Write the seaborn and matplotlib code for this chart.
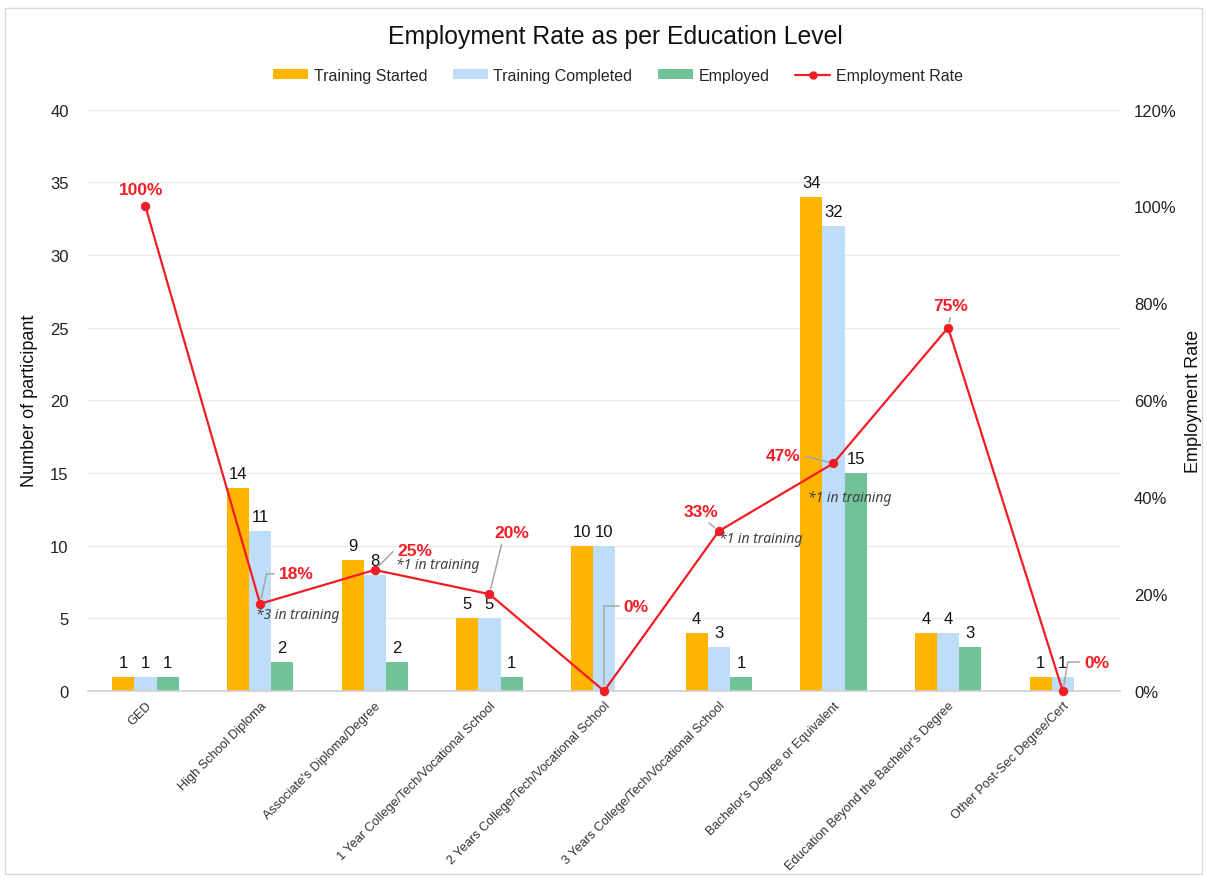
import numpy as np
import pandas as pd
import matplotlib
matplotlib.use("Agg")
import matplotlib.pyplot as plt
import seaborn as sns
from matplotlib.patches import Patch, Rectangle
from matplotlib.lines import Line2D

# ---------------- data ----------------
categories = [
    "GED",
    "High School Diploma",
    "Associate's Diploma/Degree",
    "1 Year College/Tech/Vocational School",
    "2 Years College/Tech/Vocational School",
    "3 Years College/Tech/Vocational School",
    "Bachelor's Degree or Equivalent",
    "Education Beyond the Bachelor's Degree",
    "Other Post-Sec Degree/Cert",
]
training_started = [1, 14, 9, 5, 10, 4, 34, 4, 1]
training_completed = [1, 11, 8, 5, 10, 3, 32, 4, 1]
employed = [1, 2, 2, 1, 0, 1, 15, 3, 0]
employment_rate = [100, 18, 25, 20, 0, 33, 47, 75, 0]
notes = ["", "*3 in training", "*1 in training", "", "", "*1 in training", "*1 in training", "", ""]
series_names = ["Training Started", "Training Completed", "Employed"]
left_ticks = [0, 5, 10, 15, 20, 25, 30, 35, 40]
right_ticks = [0, 20, 40, 60, 80, 100, 120]

# ---------------- styles ----------------
colors = ["#FFB400", "#BDDDF9", "#70C397"]
red = "#F21C24"
# (dx, dy) pixel offsets of rate labels, relpos, connection style (None = no leader)
rate_label_style = [
    ((-4, 17), None, None),
    ((36, 30), (0, 0.5), "angle,angleA=0,angleB=78,rad=0"),
    ((40, 19), (0, 0.5), "angle,angleA=0,angleB=45,rad=0"),
    ((22, 62), (0.25, 0), "arc3"),
    ((32, 85), (0, 0.5), "angle,angleA=0,angleB=90,rad=0"),
    ((-18, 20), (0.6, 0), "arc3"),
    ((-50, 8), (1, 0.5), "arc3"),
    ((3, 22), (0.5, 0), "arc3"),
    ((34, 29), (0, 0.5), "angle,angleA=0,angleB=80,rad=0"),
]
note_offsets = [None, (38, -11), (63, 5), None, None, (42, -7), (16, -34), None, None]

sns.set_theme(style="white")
plt.rcParams["font.family"] = ["Liberation Sans", "DejaVu Sans"]

df = pd.DataFrame({
    "Education": categories * 3,
    "Series": sum([[s] * len(categories) for s in series_names], []),
    "Count": training_started + training_completed + employed,
})

fig = plt.figure(figsize=(12.07, 8.79), dpi=100)
ax = fig.add_axes([0.073, 0.2127, 0.855, 0.6615])

sns.barplot(data=df, x="Education", y="Count", hue="Series", palette=colors,
            width=0.58, saturation=1, ax=ax, legend=False, gap=0, linewidth=0,
            edgecolor="none")

for cont, vals in zip(ax.containers, [training_started, training_completed, employed]):
    labels = [str(v) if v != 0 else "" for v in vals]
    ax.bar_label(cont, labels=labels, padding=5, fontsize=12, color="#111111")

ax.set_ylim(0, 40)
ax.set_xlim(-0.5, len(categories) - 0.5)
ax.set_yticks(left_ticks)
ax.yaxis.grid(True, color="#EBEBEB", lw=1)
ax.set_axisbelow(True)
for s in ["top", "right", "left"]:
    ax.spines[s].set_visible(False)
ax.spines["bottom"].set_color("#D0D0D0")
ax.spines["bottom"].set_linewidth(1.2)
ax.tick_params(axis="y", length=0, labelsize=12, pad=14, colors="#222222")
ax.tick_params(axis="x", length=0, pad=6)
ax.set_xticks(range(len(categories)))
ax.set_xticklabels(categories, rotation=45, ha="right", rotation_mode="anchor",
                   fontsize=9.2, color="#333333")
ax.set_xlabel("")
ax.set_ylabel("Number of participant", fontsize=13, color="#111111")
ax.yaxis.set_label_coords(-0.049, 0.5)

ax2 = ax.twinx()
xs = np.arange(len(categories))
sns.lineplot(x=xs, y=employment_rate, ax=ax2, color=red, lw=1.6, marker="o",
             markersize=6, markeredgecolor=red, clip_on=False)
ax2.set_ylim(0, 120)
ax2.set_yticks(right_ticks)
ax2.set_yticklabels([f"{t}%" for t in right_ticks])
ax2.tick_params(axis="y", length=0, labelsize=12, pad=10, colors="#222222")
for s in ax2.spines.values():
    s.set_visible(False)
ax2.set_ylabel("Employment Rate", fontsize=13, color="#111111", rotation=90, va="center")
ax2.yaxis.set_label_coords(1.071, 0.5)
ax2.grid(False)

for i, r in enumerate(employment_rate):
    off, rel, cs = rate_label_style[i]
    kw = {}
    if cs is not None:
        kw["arrowprops"] = dict(arrowstyle="-", color="#A6A6A6", lw=1.1,
                                shrinkA=1, shrinkB=4, relpos=rel, connectionstyle=cs)
    ax2.annotate(f"{r}%", xy=(xs[i], r), xytext=off, textcoords="offset pixels",
                 ha="center", va="center", fontsize=12.5, fontweight="bold",
                 color=red, annotation_clip=False, **kw)
    if notes[i] and note_offsets[i] is not None:
        ax2.annotate(notes[i], xy=(xs[i], r), xytext=note_offsets[i],
                     textcoords="offset pixels", ha="center", va="center",
                     fontsize=10, style="italic", color="#404040",
                     family=["Noto Sans", "DejaVu Sans"])

fig.text(0.51, 0.958, "Employment Rate as per Education Level", ha="center",
         va="center", fontsize=17.8, color="#111111")

handles = [Patch(facecolor=c, edgecolor="none") for c in colors]
handles.append(Line2D([0], [0], color=red, lw=1.6, marker="o", markersize=5))
fig.legend(handles, series_names + ["Employment Rate"], loc="center",
           bbox_to_anchor=(0.512, 0.913), ncol=4, frameon=False, fontsize=11.5,
           handlelength=2.2, handleheight=0.6, columnspacing=1.6, handletextpad=0.35)

fig.add_artist(Rectangle((0.004, 0.004), 0.992, 0.986, transform=fig.transFigure,
                         fill=False, edgecolor="#D9D9D9", lw=1))

fig.savefig("out.png", dpi=100)
